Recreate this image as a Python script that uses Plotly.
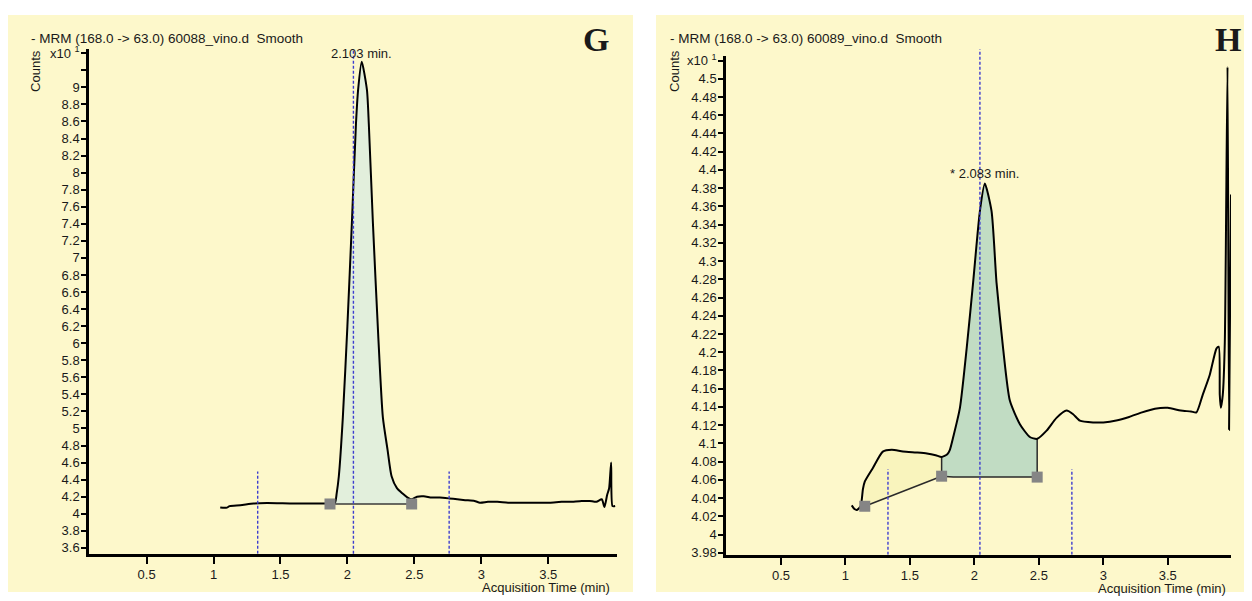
import plotly.graph_objects as go

# ---------------- data ----------------
# Panel G : sample 60088_vino.d
g_time = [1.05, 1.08, 1.10, 1.12, 1.2, 1.3, 1.4, 1.6, 1.8, 1.87, 1.907, 1.92, 1.936, 1.966, 2.0,
          2.034, 2.064, 2.08, 2.107, 2.146, 2.16, 2.19, 2.23, 2.265, 2.30, 2.33, 2.37, 2.41, 2.45,
          2.48, 2.52, 2.57, 2.63, 2.69, 2.76, 2.82, 2.88, 2.95, 2.99, 3.05, 3.12, 3.2, 3.3, 3.4,
          3.51, 3.6, 3.66, 3.75, 3.81, 3.86, 3.90, 3.92, 3.94, 3.955, 3.97, 3.98, 4.0]
g_counts = [4.075, 4.07, 4.072, 4.09, 4.10, 4.12, 4.125, 4.12, 4.12, 4.12, 4.13, 4.24, 4.44, 5.13, 6.2,
            7.43, 8.57, 8.97, 9.3, 8.97, 8.57, 7.43, 6.1, 5.13, 4.75, 4.44, 4.3, 4.24, 4.19,
            4.17, 4.2, 4.205, 4.19, 4.19, 4.18, 4.17, 4.16, 4.15, 4.13, 4.14, 4.14, 4.13, 4.13, 4.13,
            4.13, 4.14, 4.14, 4.15, 4.15, 4.14, 4.17, 4.08, 4.22, 4.3, 4.6, 4.09, 4.09]
g_base_time = [1.87, 2.48]
g_base_counts = [4.115, 4.115]
g_marks = [1.33, 2.045, 2.76]
g_yticks = [3.6, 3.8, 4, 4.2, 4.4, 4.6, 4.8, 5, 5.2, 5.4, 5.6, 5.8, 6, 6.2, 6.4, 6.6, 6.8,
            7, 7.2, 7.4, 7.6, 7.8, 8, 8.2, 8.4, 8.6, 8.8, 9, 9.4]
g_ytext = ["3.6", "3.8", "4", "4.2", "4.4", "4.6", "4.8", "5", "5.2", "5.4", "5.6", "5.8", "6",
           "6.2", "6.4", "6.6", "6.8", "7", "7.2", "7.4", "7.6", "7.8", "8", "8.2", "8.4", "8.6",
           "8.8", "9", "x10 <sup>1</sup>"]
g_unlabelled_ticks = [9.2]

# Panel H : sample 60089_vino.d
h_time = [1.049, 1.07, 1.089, 1.118, 1.136, 1.15, 1.213, 1.29, 1.36, 1.446, 1.55, 1.632, 1.70,
          1.746, 1.79, 1.81, 1.836, 1.888, 1.94, 1.99, 2.043, 2.081, 2.133, 2.172, 2.223, 2.275,
          2.353, 2.43, 2.487, 2.56, 2.637, 2.715, 2.766, 2.818, 2.92, 3.0, 3.1, 3.2, 3.3, 3.4,
          3.5, 3.6, 3.68, 3.722, 3.77, 3.825, 3.877, 3.895, 3.903, 3.911, 3.926, 3.942, 3.963,
          3.975, 3.99]
h_counts = [4.032, 4.028, 4.027, 4.031, 4.05, 4.058, 4.073, 4.091, 4.093, 4.091, 4.090, 4.089,
            4.087, 4.085, 4.088, 4.093, 4.107, 4.139, 4.204, 4.276, 4.355, 4.385, 4.355, 4.276,
            4.204, 4.147, 4.121, 4.107, 4.105, 4.114, 4.128, 4.136, 4.132, 4.125, 4.123, 4.123,
            4.125, 4.129, 4.134, 4.138, 4.139, 4.136, 4.135, 4.134, 4.153, 4.175, 4.204, 4.206,
            4.153, 4.139, 4.153, 4.211, 4.513, 4.115, 4.373]
h_base1_time = [1.15, 1.746]
h_base1_counts = [4.031, 4.064]
h_base2_time = [1.746, 1.836, 2.487]
h_base2_counts = [4.064, 4.063, 4.063]
h_marks = [1.33, 2.043, 2.756]
h_yticks = [3.98, 4.0, 4.02, 4.04, 4.06, 4.08, 4.1, 4.12, 4.14, 4.16, 4.18, 4.2, 4.22, 4.24,
            4.26, 4.28, 4.3, 4.32, 4.34, 4.36, 4.38, 4.4, 4.42, 4.44, 4.46, 4.48, 4.5, 4.52]
h_ytext = ["3.98", "4", "4.02", "4.04", "4.06", "4.08", "4.1", "4.12", "4.14", "4.16", "4.18",
           "4.2", "4.22", "4.24", "4.26", "4.28", "4.3", "4.32", "4.34", "4.36", "4.38", "4.4",
           "4.42", "4.44", "4.46", "4.48", "4.5", "x10 <sup>1</sup>"]

x_ticks = [0.5, 1, 1.5, 2, 2.5, 3, 3.5]
x_text = ["0.5", "1", "1.5", "2", "2.5", "3", "3.5"]

# ---------------- helpers ----------------
# the html body has an 8px margin, so the figure is placed 8px right / down in the page
OFF = 8
W, H = 1252 - OFF, 601 - OFF
FONT = "Liberation Sans, Arial, sans-serif"
BG = "#fdf8cb"


def px(x):
    return (x - OFF) / W


def py(y):
    return 1 - (y - OFF) / H


def segment(xs, ys, a, b):
    sx, sy = [], []
    for x, y in zip(xs, ys):
        if a - 1e-9 <= x <= b + 1e-9:
            sx.append(x)
            sy.append(y)
    return sx, sy


fig = go.Figure()
SM = 0.6

# ---- panel G ----
fig.add_trace(go.Scatter(x=g_base_time, y=g_base_counts, mode="lines",
                         line=dict(color="#3a3a3a", width=1.5), xaxis="x", yaxis="y",
                         showlegend=False, hoverinfo="skip"))
sx, sy = segment(g_time, g_counts, g_base_time[0], g_base_time[-1])
fig.add_trace(go.Scatter(x=sx, y=sy, mode="lines", fill="tonexty", fillcolor="#e2efdc",
                         line=dict(width=0, shape="spline", smoothing=SM), xaxis="x", yaxis="y",
                         showlegend=False, hoverinfo="skip"))
fig.add_trace(go.Scatter(x=g_time, y=g_counts, mode="lines",
                         line=dict(color="black", width=2, shape="spline", smoothing=SM),
                         xaxis="x", yaxis="y", showlegend=False))
fig.add_trace(go.Scatter(x=g_base_time, y=g_base_counts, mode="markers",
                         marker=dict(symbol="square", size=11, color="#858585"),
                         xaxis="x", yaxis="y", showlegend=False))

# ---- panel H ----
fig.add_trace(go.Scatter(x=h_base1_time, y=h_base1_counts, mode="lines",
                         line=dict(color="#2a2a2a", width=1.5), xaxis="x2", yaxis="y2",
                         showlegend=False, hoverinfo="skip"))
sx, sy = segment(h_time, h_counts, h_base1_time[0], h_base1_time[-1])
fig.add_trace(go.Scatter(x=sx, y=sy, mode="lines", fill="tonexty", fillcolor="#f9f4bd",
                         line=dict(width=0, shape="spline", smoothing=SM), xaxis="x2", yaxis="y2",
                         showlegend=False, hoverinfo="skip"))
fig.add_trace(go.Scatter(x=h_base2_time, y=h_base2_counts, mode="lines",
                         line=dict(color="#2a2a2a", width=1.5), xaxis="x2", yaxis="y2",
                         showlegend=False, hoverinfo="skip"))
sx, sy = segment(h_time, h_counts, h_base2_time[0], h_base2_time[-1])
fig.add_trace(go.Scatter(x=sx, y=sy, mode="lines", fill="tonexty", fillcolor="#c1dcc3",
                         line=dict(width=0, shape="spline", smoothing=SM), xaxis="x2", yaxis="y2",
                         showlegend=False, hoverinfo="skip"))
# vertical edges of the integrated area
for t in (h_base2_time[0], h_base2_time[-1]):
    i = h_time.index(t)
    j = h_base2_time.index(t)
    fig.add_trace(go.Scatter(x=[t, t], y=[h_base2_counts[j], h_counts[i]], mode="lines",
                             line=dict(color="#2a2a2a", width=1.5), xaxis="x2", yaxis="y2",
                             showlegend=False, hoverinfo="skip"))
fig.add_trace(go.Scatter(x=h_time, y=h_counts, mode="lines",
                         line=dict(color="black", width=2, shape="spline", smoothing=SM),
                         xaxis="x2", yaxis="y2", showlegend=False))
fig.add_trace(go.Scatter(x=[h_base1_time[0], h_base2_time[0], h_base2_time[-1]],
                         y=[h_base1_counts[0], h_base2_counts[0], h_base2_counts[-1]],
                         mode="markers", marker=dict(symbol="square", size=11, color="#858585"),
                         xaxis="x2", yaxis="y2", showlegend=False))

# ---------------- shapes ----------------
shapes = [
    dict(type="rect", xref="paper", yref="paper", x0=px(8), x1=px(633), y0=py(598), y1=py(10),
         fillcolor=BG, line=dict(width=0), layer="below"),
    dict(type="rect", xref="paper", yref="paper", x0=px(656), x1=px(1250), y0=py(598), y1=py(10),
         fillcolor=BG, line=dict(width=0), layer="below"),
]
DASH = dict(color="#3d3dd0", width=1.4, dash="3px,2px")
g_bottom, g_top = 3.531, 9.446
h_bottom, h_top = 3.9778, 4.5248
for k, t in enumerate(g_marks):
    if k == 1:
        shapes.append(dict(type="line", xref="x", yref="paper", x0=t, x1=t, y0=py(559), y1=py(45),
                           line=DASH))
    else:
        shapes.append(dict(type="line", xref="x", yref="y", x0=t, x1=t, y0=g_bottom, y1=4.495,
                           line=DASH))
for k, t in enumerate(h_marks):
    if k == 1:
        shapes.append(dict(type="line", xref="x2", yref="paper", x0=t, x1=t, y0=py(560), y1=py(45),
                           line=DASH))
    else:
        shapes.append(dict(type="line", xref="x2", yref="y2", x0=t, x1=t, y0=h_bottom, y1=4.0715,
                           line=DASH))

# ---------------- annotations ----------------
TXT = dict(family=FONT, size=13, color="#1a1a1a")
TTL = dict(family=FONT, size=13.5, color="#1a1a1a")
SERIF = dict(family="Liberation Serif, Times New Roman, serif", size=34, color="#1a1a1a")
ann = [
    dict(text="- MRM (168.0 -> 63.0) 60088_vino.d  Smooth", x=px(29), y=py(34), xanchor="left",
         yanchor="middle", font=TTL),
    dict(text="- MRM (168.0 -> 63.0) 60089_vino.d  Smooth", x=px(668), y=py(34), xanchor="left",
         yanchor="middle", font=TTL),
    dict(text="Counts", x=px(36), y=py(67), textangle=-90, xanchor="center", yanchor="middle"),
    dict(text="Counts", x=px(675), y=py(67), textangle=-90, xanchor="center", yanchor="middle"),
    dict(text="Acquisition Time (min)", x=px(611), y=py(593), xanchor="right", yanchor="middle",
         borderpad=0),
    dict(text="Acquisition Time (min)", x=px(1227), y=py(594), xanchor="right", yanchor="middle",
         borderpad=0),
    dict(text="<b>G</b>", x=px(596), y=py(35), xanchor="center", yanchor="middle", font=SERIF),
    dict(text="<b>H</b>", x=px(1228), y=py(35), xanchor="center", yanchor="middle", font=SERIF),
]
for a in ann:
    a.setdefault("font", TXT)
    a.update(xref="paper", yref="paper", showarrow=False)
gi = g_counts.index(max(g_counts))
hi = h_counts.index(max(h_counts[:40]))
ann.append(dict(text="2.103 min.", x=g_time[gi], y=g_counts[gi], xref="x", yref="y",
                xanchor="center", yanchor="bottom", yshift=-1, showarrow=False, font=TXT))
ann.append(dict(text="* 2.083 min.", x=h_time[hi], y=h_counts[hi], xref="x2", yref="y2",
                xanchor="center", yanchor="bottom", yshift=1, showarrow=False, font=TXT))

# ---------------- axes ----------------
AX = dict(showline=True, linecolor="black", linewidth=2.5, ticks="outside", tickcolor="black",
          tickwidth=2, showgrid=False, zeroline=False, fixedrange=True,
          tickfont=dict(family=FONT, size=13, color="#1a1a1a"))

fig.update_layout(
    width=W, height=H, margin=dict(l=0, r=0, t=0, b=0, pad=0),
    paper_bgcolor="white", plot_bgcolor="rgba(0,0,0,0)", showlegend=False,
    xaxis=dict(AX, domain=[px(89), px(616.5)], range=[0.07, 4.01], anchor="y",
               tickvals=x_ticks, ticktext=x_text, ticklen=7),
    yaxis=dict(AX, domain=[py(559), py(45)], range=[g_bottom, g_top], anchor="x",
               tickvals=g_yticks, ticktext=g_ytext, ticklen=5, ticklabelstandoff=-1,
               minor=dict(tickvals=g_unlabelled_ticks, ticks="outside", ticklen=5, tickwidth=2,
                          tickcolor="black", showgrid=False)),
    xaxis2=dict(AX, domain=[px(726), px(1231)], range=[0.074, 3.99], anchor="y2",
                tickvals=x_ticks, ticktext=x_text, ticklen=7),
    yaxis2=dict(AX, domain=[py(560), py(52)], range=[h_bottom, h_top], anchor="x2",
                tickvals=h_yticks, ticktext=h_ytext, ticklen=5, ticklabelstandoff=-1),
    shapes=shapes, annotations=ann,
)

fig.write_html("out.html")
